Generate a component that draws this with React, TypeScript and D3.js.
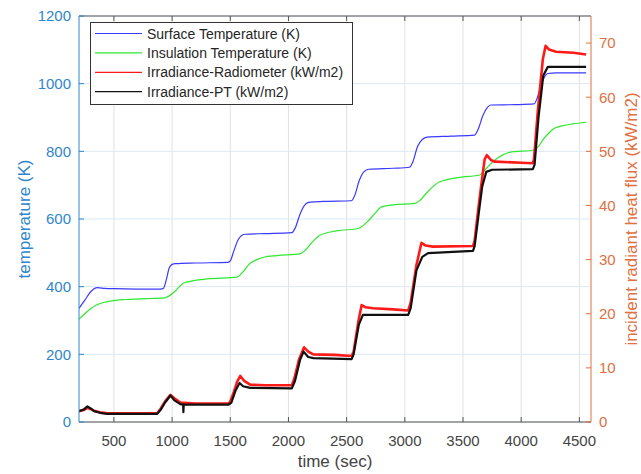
import React from "react";
import * as d3 from "d3";

// Axis ticks
const timeTicks = [500, 1000, 1500, 2000, 2500, 3000, 3500, 4000, 4500];
const tempTicks = [0, 200, 400, 600, 800, 1000, 1200];
const fluxTicks = [0, 10, 20, 30, 40, 50, 60, 70];

// Series: [time (s), value]
const surfaceTemp: [number, number][] = [
  [200, 336], [250, 360], [300, 385], [358, 397], [420, 395], [500, 394], [700, 393], [900, 393],
  [925, 395], [950, 420], [975, 455], [1000, 466], [1029, 468], [1200, 470], [1480, 472],
  [1500, 476], [1530, 505], [1570, 540], [1600, 552], [1629, 555], [1800, 557], [2030, 560],
  [2060, 575], [2100, 615], [2150, 645], [2186, 650], [2300, 652], [2540, 654],
  [2570, 670], [2610, 715], [2650, 740], [2690, 747], [2900, 750], [3040, 753],
  [3070, 770], [3110, 815], [3150, 835], [3190, 842], [3400, 845], [3600, 848],
  [3630, 865], [3670, 905], [3710, 930], [3740, 937], [3950, 938], [4110, 940],
  [4140, 960], [4170, 995], [4200, 1020], [4229, 1030], [4300, 1032], [4558, 1032],
];

const insulationTemp: [number, number][] = [
  [200, 304], [250, 320], [300, 335], [350, 346], [420, 354], [497, 359], [600, 362], [800, 365],
  [925, 366], [972, 372], [1020, 385], [1097, 410], [1143, 415], [1300, 423], [1557, 428],
  [1600, 440], [1671, 469], [1730, 480], [1786, 487], [1900, 492], [2100, 497],
  [2150, 510], [2200, 530], [2271, 552], [2414, 565], [2600, 572],
  [2672, 590], [2740, 615], [2800, 636], [2900, 642], [3086, 646],
  [3130, 655], [3172, 671], [3230, 692], [3300, 710], [3471, 723], [3643, 730],
  [3680, 742], [3729, 760], [3810, 783], [3900, 797], [4114, 804],
  [4150, 815], [4186, 834], [4240, 855], [4286, 868], [4360, 876], [4443, 881], [4558, 886],
];

const radiometerFlux: [number, number][] = [
  [200, 2.0], [240, 2.2], [272, 2.6], [300, 2.4], [329, 2.1], [380, 1.8], [443, 1.6], [600, 1.6],
  [872, 1.6], [900, 2.4], [940, 3.8], [986, 5.0], [1020, 4.4], [1071, 3.6], [1200, 3.4], [1486, 3.4],
  [1500, 3.8], [1530, 5.5], [1560, 7.5], [1586, 8.5], [1620, 7.6], [1671, 6.9], [1800, 6.8], [2029, 6.8],
  [2050, 8.0], [2090, 11.5], [2134, 13.8], [2170, 13.0], [2214, 12.5], [2400, 12.4], [2543, 12.2],
  [2560, 13.0], [2600, 18.5], [2629, 21.6], [2660, 21.2], [2729, 21.0], [2900, 20.8], [3029, 20.6],
  [3050, 22.0], [3100, 29.0], [3143, 33.1], [3180, 32.6], [3243, 32.4], [3586, 32.5],
  [3600, 33.5], [3629, 38.9], [3657, 43.8], [3686, 48.5], [3705, 49.3], [3740, 48.4], [3771, 48.1],
  [4000, 47.9], [4100, 47.8], [4110, 48.5], [4143, 57.5], [4186, 67.0], [4210, 69.5],
  [4240, 68.8], [4300, 68.4], [4450, 68.2], [4558, 67.9],
];

const ptFlux: [number, number][] = [
  [200, 2.0], [240, 2.3], [272, 2.9], [300, 2.5], [329, 2.0], [380, 1.7], [443, 1.5], [872, 1.5],
  [900, 2.2], [940, 3.6], [986, 4.9], [1020, 4.0], [1071, 3.3], [1095, 3.2], [1097, 1.8], [1100, 3.2],
  [1486, 3.2], [1510, 3.6], [1545, 5.8], [1580, 7.2], [1610, 6.6], [1671, 6.3], [2029, 6.2],
  [2055, 7.5], [2100, 11.5], [2130, 13.0], [2170, 12.0], [2214, 11.8], [2543, 11.6],
  [2560, 12.5], [2605, 18.0], [2640, 19.8], [3029, 19.8],
  [3050, 21.0], [3100, 28.0], [3150, 30.5], [3200, 31.2], [3586, 31.6],
  [3600, 32.5], [3635, 38.5], [3665, 43.5], [3700, 46.2], [3750, 46.6], [4100, 46.7],
  [4115, 47.5], [4150, 56.5], [4190, 64.0], [4229, 65.6], [4558, 65.6],
];

const legendLabels = [
  "Surface Temperature (K)",
  "Insulation Temperature (K)",
  "Irradiance-Radiometer (kW/m2)",
  "Irradiance-PT (kW/m2)",
];

const W = 641;
const H = 474;
const LEFT = 79;
const RIGHT = 591;
const TOP = 16;
const BOTTOM = 422;

const FONT = "'Liberation Sans', Arial, Helvetica, sans-serif";
const LEFT_COLOR = "#2f86cc";
const RIGHT_COLOR = "#e0703f";
const AXIS_GRAY = "#555555";
const TEXT_GRAY = "#444444";

const seriesColors = ["#3a3aff", "#2ee82e", "#ff1a1a", "#111111"];

export default function App() {
  const x = d3.scaleLinear().domain([200, 4600]).range([LEFT, RIGHT]);
  const yT = d3.scaleLinear().domain([0, 1200]).range([BOTTOM, TOP]);
  const yF = d3.scaleLinear().domain([0, 75]).range([BOTTOM, TOP]);

  const lineT = d3
    .line<[number, number]>()
    .x((d) => x(d[0]))
    .y((d) => yT(d[1]))
    .curve(d3.curveMonotoneX);
  const lineF = d3
    .line<[number, number]>()
    .x((d) => x(d[0]))
    .y((d) => yF(d[1]));

  return (
    <svg
      width={W}
      height={H}
      style={{ position: "absolute", left: 0, top: 0, background: "#fff" }}
      fontFamily={FONT}
    >
      <defs>
        <clipPath id="plot-area">
          <rect x={LEFT} y={TOP} width={RIGHT - LEFT} height={BOTTOM - TOP} />
        </clipPath>
      </defs>
      <rect x={0} y={0} width={W} height={H} fill="#fff" />

      {/* grid */}
      {timeTicks.map((t) => (
        <line key={"gx" + t} x1={x(t)} x2={x(t)} y1={TOP} y2={BOTTOM} stroke="#e2e2e2" strokeWidth={1} />
      ))}
      {tempTicks.map((t) => (
        <line key={"gy" + t} x1={LEFT} x2={RIGHT} y1={yT(t)} y2={yT(t)} stroke="#dbe8f5" strokeWidth={1} />
      ))}

      {/* data */}
      <g clipPath="url(#plot-area)" fill="none">
        <path d={lineT(surfaceTemp) ?? ""} stroke={seriesColors[0]} strokeWidth={1.2} />
        <path d={lineT(insulationTemp) ?? ""} stroke={seriesColors[1]} strokeWidth={1.2} />
        <path d={lineF(radiometerFlux) ?? ""} stroke={seriesColors[2]} strokeWidth={2.6} strokeLinejoin="round" />
        <path d={lineF(ptFlux) ?? ""} stroke={seriesColors[3]} strokeWidth={2.2} strokeLinejoin="round" />
      </g>

      {/* box top and bottom axis */}
      <line x1={LEFT} x2={RIGHT} y1={TOP} y2={TOP} stroke={AXIS_GRAY} strokeWidth={1} />
      <line x1={LEFT} x2={RIGHT} y1={BOTTOM} y2={BOTTOM} stroke={AXIS_GRAY} strokeWidth={1} />
      {timeTicks.map((t) => (
        <g key={"tx" + t}>
          <line x1={x(t)} x2={x(t)} y1={BOTTOM} y2={BOTTOM - 5} stroke={AXIS_GRAY} />
          <line x1={x(t)} x2={x(t)} y1={TOP} y2={TOP + 5} stroke={AXIS_GRAY} />
          <text x={x(t)} y={446} textAnchor="middle" fontSize={15} fill={TEXT_GRAY}>
            {t}
          </text>
        </g>
      ))}
      <text x={(LEFT + RIGHT) / 2} y={467} textAnchor="middle" fontSize={17} fill={TEXT_GRAY}>
        time (sec)
      </text>

      {/* left axis */}
      <line x1={LEFT} x2={LEFT} y1={TOP} y2={BOTTOM} stroke={LEFT_COLOR} strokeWidth={1} />
      {tempTicks.map((t) => (
        <g key={"ty" + t}>
          <line x1={LEFT} x2={LEFT + 5} y1={yT(t)} y2={yT(t)} stroke={LEFT_COLOR} />
          <text x={71} y={yT(t)} dy="0.36em" textAnchor="end" fontSize={15} fill={LEFT_COLOR}>
            {t}
          </text>
        </g>
      ))}
      <text
        transform={`translate(30, ${(TOP + BOTTOM) / 2}) rotate(-90)`}
        textAnchor="middle"
        fontSize={17}
        fill={LEFT_COLOR}
      >
        temperature (K)
      </text>

      {/* right axis */}
      <line x1={RIGHT} x2={RIGHT} y1={TOP} y2={BOTTOM} stroke={RIGHT_COLOR} strokeWidth={1} />
      {fluxTicks.map((f) => (
        <g key={"tf" + f}>
          <line x1={RIGHT} x2={RIGHT - 5} y1={yF(f)} y2={yF(f)} stroke={RIGHT_COLOR} />
          <text x={599} y={yF(f)} dy="0.36em" textAnchor="start" fontSize={15} fill={RIGHT_COLOR}>
            {f}
          </text>
        </g>
      ))}
      <text
        transform={`translate(637, ${(TOP + BOTTOM) / 2}) rotate(-90)`}
        textAnchor="middle"
        fontSize={17}
        fill={RIGHT_COLOR}
      >
        incident radiant heat flux (kW/m2)
      </text>

      {/* legend */}
      <g>
        <rect x={90.5} y={22.5} width={262} height={82} fill="#fff" stroke="#333" strokeWidth={1} />
        {legendLabels.map((label, i) => {
          const cy = 33.5 + i * 19.4;
          return (
            <g key={label}>
              <line x1={95} x2={142} y1={cy} y2={cy} stroke={seriesColors[i]} strokeWidth={1.2} />
              <text x={147} y={cy} dy="0.36em" fontSize={14} fill="#262626">
                {label}
              </text>
            </g>
          );
        })}
      </g>
    </svg>
  );
}
